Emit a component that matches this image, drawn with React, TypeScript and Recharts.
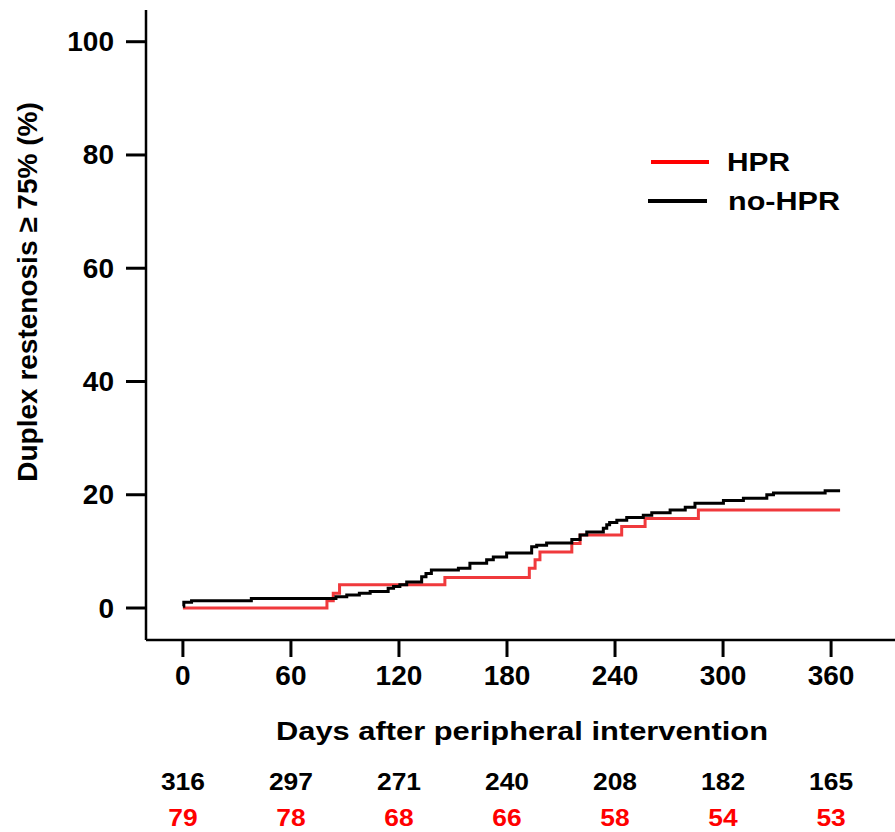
import React from "react";
import { LineChart, Line, XAxis, YAxis, Legend } from "recharts";

const hprDays = [0, 80, 83.5, 87, 145.5, 192.4, 195.6, 198.3, 216, 220.6, 243.7, 256.7, 286.3, 365];
const hprPct = [0, 1.3, 2.6, 4.1, 5.4, 7.0, 8.5, 9.9, 11.4, 12.9, 14.4, 15.8, 17.3, 17.3];

const noHprDays = [0, 0.5, 4.8, 38, 85, 91, 98, 104, 114, 117, 120.5, 124.3, 132.6, 135, 138, 153, 159.4, 168.7, 172.4, 179.8, 193.7, 196.5, 202, 216, 220.6, 224.3, 233.5, 235.4, 237, 241, 246.5, 255.7, 260.4, 270.6, 279, 284.4, 300.2, 311.3, 324.3, 328, 356.7, 365];
const noHprPct = [0.3, 1.0, 1.3, 1.7, 2.0, 2.3, 2.6, 2.9, 3.5, 3.8, 4.1, 4.6, 5.5, 6.1, 6.7, 7.0, 7.9, 8.5, 9.0, 9.7, 10.8, 11.1, 11.5, 12.1, 12.9, 13.4, 14.1, 14.7, 15.1, 15.5, 16.0, 16.4, 16.8, 17.3, 17.8, 18.5, 19.0, 19.4, 20.0, 20.3, 20.7, 20.7];

const xTicks = [0, 60, 120, 180, 240, 300, 360];
const yTicks = [0, 20, 40, 60, 80, 100];
const atRiskNoHpr = [316, 297, 271, 240, 208, 182, 165];
const atRiskHpr = [79, 78, 68, 66, 58, 54, 53];

const seriesNames = ["HPR", "no-HPR"];
const RED = "#f0393c";
const BLACK = "#000000";
const FONT = "'Liberation Sans', Arial, sans-serif";

const hprData = hprDays.map((d, i) => ({ day: d, value: hprPct[i] }));
const noHprData = noHprDays.map((d, i) => ({ day: d, value: noHprPct[i] }));

const xDomain = [-20.5, 395.5];
const yDomain = [-5.65, 105.6];

const LegendBox = () => (
  <svg width={230} height={90} style={{ display: "block" }}>
    <line x1={6} x2={64} y1={17} y2={17} stroke="#ff0000" strokeWidth={4} />
    <text x={82} y={26} fontFamily={FONT} fontWeight="bold" fontSize={25} fill="#000" textLength={63} lengthAdjust="spacingAndGlyphs">
      {seriesNames[0]}
    </text>
    <line x1={3} x2={62} y1={56} y2={56} stroke={BLACK} strokeWidth={4} />
    <text x={83} y={65} fontFamily={FONT} fontWeight="bold" fontSize={25} fill="#000" textLength={112} lengthAdjust="spacingAndGlyphs">
      {seriesNames[1]}
    </text>
  </svg>
);

const YLabel = () => {
  const cx = 27;
  const cy = 292;
  return (
    <text
      x={cx}
      y={cy}
      transform={`rotate(-90, ${cx}, ${cy})`}
      textAnchor="middle"
      dominantBaseline="central"
      fontFamily={FONT}
      fontWeight="bold"
      fontSize={28}
      fill="#000"
    >
      Duplex restenosis ≥ 75% (%)
    </text>
  );
};

const XLabel = (props: any) => {
  const vb = props.viewBox || {};
  return (
    <text
      x={276}
      y={(vb.y ?? 640) + 100}
      fontFamily={FONT}
      fontWeight="bold"
      fontSize={26}
      fill="#000"
      textLength={492}
      lengthAdjust="spacingAndGlyphs"
    >
      Days after peripheral intervention
    </text>
  );
};

const YTick = (props: any) => {
  const { x, y, payload } = props;
  return (
    <text x={x} y={y} textAnchor="end" dominantBaseline="central" fontFamily={FONT} fontWeight="bold" fontSize={28} fill="#000">
      {payload.value}
    </text>
  );
};

const XTick = (props: any) => {
  const { x, y, payload } = props;
  return (
    <text x={x} y={y + 21} textAnchor="middle" fontFamily={FONT} fontWeight="bold" fontSize={28} fill="#000">
      {payload.value}
    </text>
  );
};

const makeRiskTick = (values: number[], color: string, dy: number) => (props: any) => {
  const { x, y, payload } = props;
  const v = values[xTicks.indexOf(payload.value)];
  return (
    <g transform={`translate(${x}, ${y + dy}) scale(1.1, 1)`}>
      <text x={0} y={0} textAnchor="middle" fontFamily={FONT} fontWeight="bold" fontSize={24} fill={color}>
        {v}
      </text>
    </g>
  );
};

const RiskTickNoHpr = makeRiskTick(atRiskNoHpr, "#000", 50);
const RiskTickHpr = makeRiskTick(atRiskHpr, "#ff0000", 46);

export default function App() {
  return (
    <div style={{ position: "absolute", left: 0, top: 0, width: 895, height: 832, background: "#fff" }}>
      <LineChart width={895} height={832} margin={{ top: 10, right: 0, left: 0, bottom: 12 }}>
        <XAxis
          xAxisId="main"
          dataKey="day"
          type="number"
          domain={xDomain}
          ticks={xTicks}
          allowDataOverflow
          height={100}
          axisLine={{ stroke: "#000", strokeWidth: 2.5 }}
          tickLine={{ stroke: "#000", strokeWidth: 3 }}
          tickSize={17}
          tickMargin={7}
          tick={<XTick />}
          label={<XLabel />}
        />
        <XAxis
          xAxisId="risk1"
          dataKey="day"
          type="number"
          domain={xDomain}
          ticks={xTicks}
          allowDataOverflow
          height={40}
          axisLine={false}
          tickLine={false}
          tickSize={0}
          tickMargin={0}
          tick={<RiskTickNoHpr />}
        />
        <XAxis
          xAxisId="risk2"
          dataKey="day"
          type="number"
          domain={xDomain}
          ticks={xTicks}
          allowDataOverflow
          height={40}
          axisLine={false}
          tickLine={false}
          tickSize={0}
          tickMargin={0}
          tick={<RiskTickHpr />}
        />
        <YAxis
          type="number"
          domain={yDomain}
          ticks={yTicks}
          allowDataOverflow
          width={146}
          axisLine={{ stroke: "#000", strokeWidth: 2.5 }}
          tickLine={{ stroke: "#000", strokeWidth: 3 }}
          tickSize={20}
          tickMargin={12}
          tick={<YTick />}
          label={<YLabel />}
        />
        <Legend
          layout="vertical"
          align="center"
          verticalAlign="middle"
          content={() => <LegendBox />}
          wrapperStyle={{ position: "absolute", left: 645, top: 145, width: 230 }}
        />
        <Line
          xAxisId="main"
          data={hprData}
          dataKey="value"
          name={seriesNames[0]}
          type="stepAfter"
          stroke={RED}
          strokeWidth={3}
          dot={false}
          isAnimationActive={false}
        />
        <Line
          xAxisId="main"
          data={noHprData}
          dataKey="value"
          name={seriesNames[1]}
          type="stepAfter"
          stroke={BLACK}
          strokeWidth={3}
          dot={false}
          isAnimationActive={false}
        />
      </LineChart>
    </div>
  );
}
